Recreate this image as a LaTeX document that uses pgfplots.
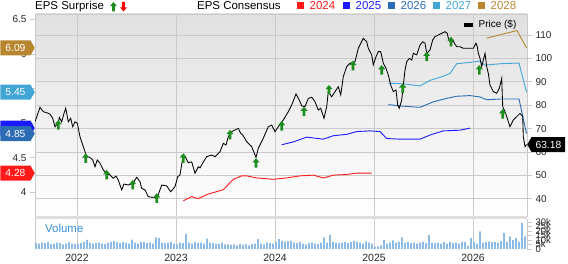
\documentclass[border=0pt]{standalone}
\usepackage{fontspec}
\setmainfont{Liberation Sans}
\usepackage{pgfplots}
\pgfplotsset{compat=1.18}
\usetikzlibrary{shapes.symbols}

\definecolor{cA}{HTML}{FF1A1A}
\definecolor{cB}{HTML}{1A1AFF}
\definecolor{cC}{HTML}{2B6CB5}
\definecolor{cD}{HTML}{41A5D6}
\definecolor{cE}{HTML}{B8862F}
\definecolor{gridc}{HTML}{CACACA}
\definecolor{arrowg}{HTML}{1E8C1E}
\definecolor{volc}{HTML}{8DBBE4}
\definecolor{volt}{HTML}{3D8FD6}
\definecolor{bandc}{HTML}{DEDEDE}

\newcommand{\tk}{\fontsize{10}{12}\selectfont}
\newcommand{\ttl}{\fontsize{11.5}{13}\selectfont}

\pgfdeclareplotmark{uparrow}{%
  \pgfpathmoveto{\pgfqpoint{0bp}{5bp}}%
  \pgfpathlineto{\pgfqpoint{3.6bp}{0.8bp}}%
  \pgfpathlineto{\pgfqpoint{1.3bp}{0.8bp}}%
  \pgfpathlineto{\pgfqpoint{1.3bp}{-4.5bp}}%
  \pgfpathlineto{\pgfqpoint{-1.3bp}{-4.5bp}}%
  \pgfpathlineto{\pgfqpoint{-1.3bp}{0.8bp}}%
  \pgfpathlineto{\pgfqpoint{-3.6bp}{0.8bp}}%
  \pgfpathclose\pgfusepathqfill}

\pgfplotsset{
  panel/.style={at={(35bp,48bp)}, anchor=south west, scale only axis,
    width=492bp, height=202bp, xmin=35, xmax=527},
  /pgf/number format/assume math mode=true,
}
\tikzset{
  ltag/.style={signal, signal to=east, signal pointer angle=120, minimum height=15bp,
    inner xsep=5bp, inner ysep=0pt, text=white, font=\fontsize{10.3}{12}\selectfont, anchor=east},
}

\begin{document}
\begin{tikzpicture}
\useasboundingbox (0,0) rectangle (568bp,264bp);

% ---- Price axis: background, grid, right ticks
\begin{axis}[panel,
  ymin=32.65, ymax=118.97,
  axis background/.style={top color=black!12, middle color=white, bottom color=white},
  xtick={77,176,275,374,473}, xticklabels={}, xtick style={draw=none},
  ytick={40,50,...,110}, ytick pos=right, yticklabel pos=right,
  tick align=outside, major tick length=5bp,
  ytick style={draw=gridc, line width=0.8bp},
  grid=major, major grid style={draw=gridc, line width=0.8bp},
  axis line style={draw=gridc, line width=0.8bp},
  yticklabel style={font=\tk, text=black!85},
]
\addplot[draw=none] coordinates {(35,50)};
\end{axis}

% ---- EPS axis: consensus lines, left ticks
\begin{axis}[panel,
  ymin=3.660, ymax=6.579,
  xtick=\empty, axis line style={draw=none},
  ytick={4,4.5,5,5.5,6,6.5}, ytick pos=left, yticklabel pos=left,
  tick align=outside, major tick length=5bp,
  ytick style={draw=gridc, line width=0.8bp},
  yticklabel style={font=\tk, text=black!85},
]
% 2024
\addplot[cA, line width=0.9bp] coordinates {
(183.3,3.88) (191.7,3.94) (198.3,3.91) (206.7,3.97) (223.3,4.04) (233.3,4.19)
(241.7,4.24) (246.7,4.24) (256.7,4.21) (273.3,4.19) (286.7,4.21) (300,4.24)
(313.3,4.25) (323.3,4.21) (333.3,4.25) (346.7,4.26) (356.7,4.28) (371.7,4.28)};
% 2025
\addplot[cB, line width=0.9bp] coordinates {
(281.7,4.69) (293.3,4.73) (306.7,4.80) (323.3,4.77) (333.3,4.82) (346.7,4.84)
(356.7,4.88) (370,4.89) (380,4.88) (386.7,4.78) (400,4.77) (420,4.77)
(430,4.83) (443.3,4.89) (460,4.90) (470,4.93)};
% 2026
\addplot[cC, line width=0.9bp] coordinates {
(388.3,5.27) (400,5.25) (410,5.24) (420,5.23) (433.3,5.31) (446.7,5.36)
(456.7,5.39) (470,5.40) (480,5.38) (486.7,5.34) (500,5.35) (519,5.35) (526.5,4.85)};
% 2027
\addplot[cD, line width=0.9bp] coordinates {
(388.3,5.58) (403.3,5.57) (420,5.54) (430,5.62) (443.3,5.68) (450,5.72)
(456.7,5.86) (470,5.88) (480,5.90) (485,5.84) (500,5.86) (519,5.87) (526.5,5.45)};
% 2028
\addplot[cE, line width=0.9bp] coordinates {(486.7,6.23) (517,6.34) (526.5,6.09)};
\end{axis}

% ---- Price line and surprise arrows
\begin{axis}[panel, ymin=32.65, ymax=118.97, hide axis, clip mode=individual]
\addplot[black, line width=0.85bp] coordinates {
(35,72.9) (40,79.1) (43.3,77.2) (46.7,76.8) (50,76.2) (52.7,74.4) (55,70.8)
(58.3,72.3) (59.3,74.8) (61.7,72.9) (64,76.5) (65.7,78.7) (68.3,72.9) (70.7,74.4)
(72.7,70.8) (75,72.9) (77.3,72.3) (80,66.5) (83.3,62.3) (86.7,58.0) (90,57.7)
(92.7,56.6) (95,53.7) (97.3,56.6) (100,55.2) (103.3,52.3) (106.7,50.9) (110,50.2)
(113.3,48.8) (116,49.7) (118.3,48.0) (121.7,43.8) (124,46.3) (128.3,45.9)
(132.7,46.6) (136.7,49.2) (140,47.3) (141.7,44.5) (145,43.8) (148.3,40.9)
(153.3,40.6) (156.7,40.2) (159.3,43.0) (161.7,45.9) (166.7,45.5) (170.7,43.0)
(175,45.2) (177.7,49.4) (180,50.2) (182.7,57.3) (185,58.0) (188.3,55.4)
(191.7,55.8) (195,50.9) (198.3,53.7) (200,53.2) (203,55.5) (206.7,58.0)
(211.7,58.7) (215,58.0) (220,60.1) (223.3,63.7) (226,63.0) (228.3,66.5)
(231.7,68.7) (235,69.4) (238.3,70.1) (240.7,68.0) (242.7,67.3) (246.7,64.4)
(251.7,62.3) (256,57.7) (258.3,61.6) (263.3,65.9) (268.3,70.8) (271.7,71.5)
(275,68.7) (278.3,70.8) (283.3,73.7) (288.3,77.2) (291.7,80.1) (296,84.8)
(299.3,82.2) (301.7,79.7) (305,79.4) (308.3,82.9) (311.7,83.4) (315,81.5)
(318.3,77.9) (320.7,78.7) (324,74.4) (326.7,79.4) (328.3,85.8) (331.7,83.6)
(335,85.8) (338.3,87.9) (340.7,84.4) (343.3,92.2) (346.7,96.5) (350,97.9)
(355,98.6) (358.3,104.3) (363.3,108.6) (366.7,107.1) (368.3,104.3) (371.7,101.5)
(373.3,97.2) (376,100.7) (378.3,102.9) (380.7,102.9) (383.3,97.9) (386,95.8)
(388.3,92.9) (390.7,88.6) (393.3,85.8) (396,86.5) (397.7,80.1) (399.3,78.7)
(401.7,82.2) (403.3,88.6) (405,95.0) (406.7,98.6) (409.3,100.0) (411.7,99.3)
(413.3,102.2) (416.7,101.5) (420,105.7) (422.7,107.1) (425,106.5) (426.7,102.2)
(430,103.6) (432.7,107.9) (435,109.3) (438.3,110.0) (441.7,110.7) (445,111.4)
(447.3,110.7) (448.3,108.6) (450.7,106.5) (452.7,107.6) (456.7,105.0) (460,105.0)
(463.3,104.3) (466.7,104.3) (470,104.3) (473.3,104.3) (476,106.5) (477.3,105.0)
(478.3,102.2) (480,100.0) (481.7,96.5) (483.3,99.3) (485,102.2) (486.7,96.5)
(488.3,93.6) (490,88.6) (493.3,85.8) (496.7,85.1) (499.3,87.2) (501.7,91.5)
(502.7,79.4) (505,77.2) (506.7,75.1) (510,70.8) (513.3,73.7) (516.7,75.1)
(520,76.5) (522.7,75.1) (523.3,66.5) (525,62.3) (526.5,63.18)};
\addplot[only marks, mark=uparrow, color=arrowg] coordinates {
(58.3,71.5) (85.7,57.3) (106.7,50.2) (132.7,45.9) (156.7,40.2) (183.3,57.3)
(230,67.3) (256,55.2) (281.7,71.1) (304,77.2) (329,86.5) (353,96.8)
(381.7,95.0) (402.7,87.2) (426.7,100.7) (451,107.1) (479.3,95.0) (502.7,76.2)};
\node[signal, signal to=west, signal pointer angle=120, fill=black, text=white,
  minimum height=15bp, inner xsep=4bp, inner ysep=0pt, anchor=west,
  font=\fontsize{10.3}{12}\selectfont] at (axis cs:527,63.18) {63.18};
\end{axis}

% ---- EPS value tags (on top of the left tick labels)
\begin{axis}[panel, ymin=3.660, ymax=6.579, hide axis, clip mode=individual]
\addplot[draw=none] coordinates {(35,5)};
\node[ltag, fill=cE] at (axis cs:35,6.09) {6.09};
\node[ltag, fill=cD] at (axis cs:35,5.45) {5.45};
\node[ltag, fill=cB] at (axis cs:35,4.93) {\phantom{4.93}};
\node[ltag, fill=cC] at (axis cs:35,4.85) {4.85};
\node[ltag, fill=cA] at (axis cs:35,4.28) {4.28};
\end{axis}

% separator band
\fill[bandc] (35bp,45bp) rectangle (527bp,48bp);

% ---- Volume panel
\begin{axis}[at={(35bp,15bp)}, anchor=south west, scale only axis,
  width=492bp, height=30bp, xmin=35, xmax=527, ymin=0, ymax=33.3,
  xtick={77,176,275,374,473}, xticklabels={2022,2023,2024,2025,2026},
  xtick style={draw=none}, xmajorgrids, major grid style={draw=gridc, line width=0.8bp},
  ytick={0,5,...,30}, yticklabels={0,5k,10k,15k,20k,25k,30k},
  ytick pos=right, yticklabel pos=right, tick align=outside, major tick length=5bp,
  ytick style={draw=gridc, line width=0.8bp},
  separate axis lines, x axis line style={draw=none},
  y axis line style={draw=gridc, line width=0.8bp},
  xticklabel style={font=\fontsize{10.5}{12}\selectfont, text=black!85, yshift=3bp},
  yticklabel style={font=\fontsize{9.5}{10}\selectfont, text=black!85},
]
\addplot[ybar, bar width=1.6bp, fill=volc, draw=none] coordinates {
(36,6.5) (39,6) (42,7) (45,6.5) (48,7.5) (51,5.5) (54,6) (57,7) (60,6.5) (63,5)
(66,6) (69,7.5) (72,6) (75,5.5) (78,6) (81,6.5) (84,8) (87,10) (90,7) (93,6)
(96,6.5) (99,7) (102,6) (105,5.5) (108,7) (111,8) (114,9) (117,7.5) (120,6.5)
(123,8) (126,7) (129,6) (132,10.5) (135,7) (138,6) (141,8) (144,7.5) (147,6.5)
(150,7) (153,6) (156,13) (159,12) (162,7) (165,6.5) (168,7) (171,8) (174,6)
(177,5) (180,7) (183,6.5) (186,17) (189,7) (192,6) (195,8) (198,6.5) (201,7)
(204,6) (207,11.5) (210,7) (213,6.5) (216,6) (219,5.5) (222,7) (225,5) (228,5)
(231,4.5) (234,5) (237,4) (240,5.5) (243,4.5) (246,5) (249,4) (252,5.5) (255,6)
(258,11) (261,6) (264,5) (267,7) (270,6.5) (273,6) (276,7.5) (279,11) (282,9)
(285,8) (288,8.5) (291,9) (294,7) (297,6.5) (300,8) (303,6) (306,5) (309,6.5)
(312,7) (315,6) (318,5.5) (321,7) (324,13) (327,7) (330,16) (333,8) (336,7)
(339,6.5) (342,7) (345,8) (348,6.5) (351,7.5) (354,9) (357,8) (360,7) (363,6)
(366,8.5) (369,7) (372,6) (375,2.5) (378,3) (381,4) (384,10) (387,6) (390,7)
(393,9.5) (396,7) (399,8) (402,13) (405,7) (408,8) (411,6.5) (414,7) (417,6)
(420,7) (423,8) (426,6.5) (429,15.5) (432,7) (435,6.5) (438,7) (441,6) (444,7.5)
(447,6) (450,8) (453,6.5) (456,7) (459,6) (462,7.5) (465,8) (468,3.5) (471,12)
(474,8) (477,6) (480,19.5) (483,7) (486,8) (489,8.5) (492,7.5) (495,8) (498,7)
(501,9) (504,18) (507,8) (510,14) (513,10) (516,12) (519,8) (522,29) (525,14)};
\node[anchor=west, inner sep=0pt, text=volt, font=\ttl] at (axis cs:45,23.3) {Volume};
\end{axis}

% ---- Header
\node[anchor=west, inner sep=0pt, font=\ttl] at (35bp,257bp) {EPS Surprise};
\fill[arrowg] (113.5bp,262bp) -- (117bp,257.8bp) -- (114.8bp,257.8bp) -- (114.8bp,252.5bp)
  -- (112.2bp,252.5bp) -- (112.2bp,257.8bp) -- (110bp,257.8bp) -- cycle;
\fill[red] (123.5bp,252.5bp) -- (127bp,256.7bp) -- (124.8bp,256.7bp) -- (124.8bp,262bp)
  -- (122.2bp,262bp) -- (122.2bp,256.7bp) -- (120bp,256.7bp) -- cycle;
\node[anchor=west, inner sep=0pt, font=\ttl] at (197bp,258bp) {EPS Consensus};
\foreach \s/\c/\y in {297/cA/2024, 343/cB/2025, 388/cC/2026, 433/cD/2027, 478/cE/2028}{
  \fill[\c] (\s bp,254.5bp) rectangle ++(7bp,7bp);
  \node[anchor=west, inner sep=0pt, text=\c, font=\ttl] at (\s bp+12.5bp,258bp) {\y};
}
% price legend
\fill[black] (464bp,236.7bp) rectangle (473bp,241.3bp);
\node[anchor=west, inner sep=0pt, font=\tk] at (478.5bp,239bp) {Price (\$)};
\end{tikzpicture}
\end{document}
